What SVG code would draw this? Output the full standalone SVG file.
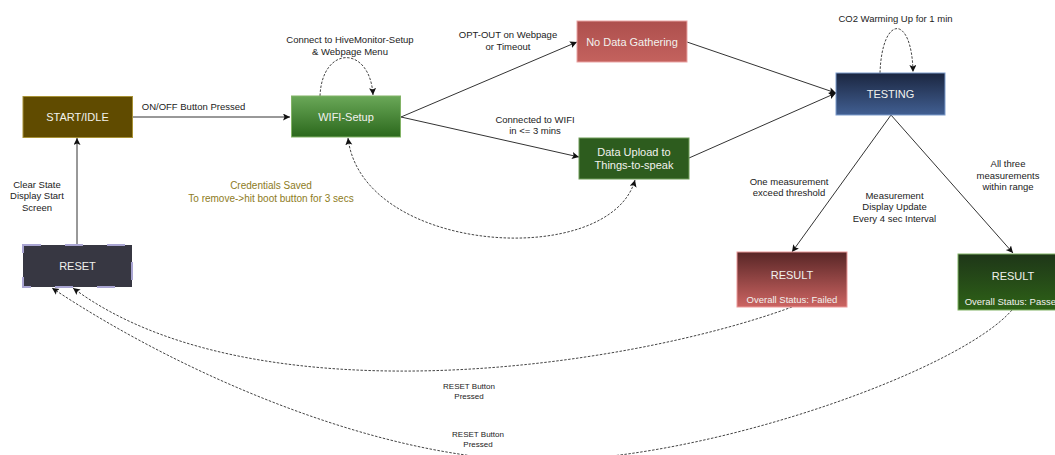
<svg xmlns="http://www.w3.org/2000/svg" width="1055" height="455" viewBox="0 0 1055 455">
<style>
.node text{font-family:"Liberation Sans",Arial,sans-serif;fill:#f2f2ee;text-anchor:middle;}
.nt{font-size:11px;}
.ns{font-size:9.5px;}
.lbl{font-family:"Liberation Sans",Arial,sans-serif;font-size:9.5px;fill:#222;text-anchor:middle;}
.sm{font-size:8px;}
.gold{fill:#8d7b1c;font-size:10px;}
.edge{fill:none;stroke:#333;stroke-width:1;}
.dash{fill:none;stroke:#444;stroke-width:1;stroke-dasharray:2.5 1.5;}
</style>
<defs>
<marker id="ah" markerWidth="8" markerHeight="8" refX="7" refY="3.5" orient="auto-start-reverse" markerUnits="userSpaceOnUse">
<path d="M0,0 L7,3.5 L0,7 L1.5,3.5 z" fill="#111"/>
</marker>
<linearGradient id="gWifi" x1="0" y1="0" x2="0" y2="1"><stop offset="0" stop-color="#6aa858"/><stop offset="1" stop-color="#2b681c"/></linearGradient>
<linearGradient id="gNoData" x1="0" y1="0" x2="0" y2="1"><stop offset="0" stop-color="#ad4f4d"/><stop offset="1" stop-color="#c4625e"/></linearGradient>
<linearGradient id="gTest" x1="0" y1="0" x2="0" y2="1"><stop offset="0" stop-color="#1b2640"/><stop offset="1" stop-color="#415f92"/></linearGradient>
<linearGradient id="gFail" x1="0" y1="0" x2="0" y2="1"><stop offset="0" stop-color="#582626"/><stop offset="1" stop-color="#cc6462"/></linearGradient>
<linearGradient id="gPass" x1="0" y1="0" x2="0" y2="1"><stop offset="0" stop-color="#1e3618"/><stop offset="1" stop-color="#2e6217"/></linearGradient>
</defs>
<rect width="1055" height="455" fill="#ffffff"/>

<g id="connectors">
<path class="edge" d="M132,117 L290,117" marker-end="url(#ah)"/>
<path class="edge" d="M77,245 L77,138" marker-end="url(#ah)"/>
<path class="dash" d="M320,96 C322,45 370,45 373,95" marker-end="url(#ah)"/>
<path class="edge" d="M401,117 L577,42" marker-end="url(#ah)"/>
<path class="edge" d="M401,117 L579,157" marker-end="url(#ah)"/>
<path class="dash" d="M348,138 C362,255 610,270 635,180" marker-start="url(#ah)" marker-end="url(#ah)"/>
<path class="edge" d="M687,42 L836,93" marker-end="url(#ah)"/>
<path class="edge" d="M689,158 L836,93" marker-end="url(#ah)"/>
<path class="dash" d="M880,73 C882,14 912,14 913,72" marker-end="url(#ah)"/>
<path class="edge" d="M891,115 L792,252" marker-end="url(#ah)"/>
<path class="edge" d="M891,115 L1013,253" marker-end="url(#ah)"/>
<path class="dash" d="M792,307 C620,370 250,420 73,288" marker-end="url(#ah)"/>
<path class="dash" d="M1012,310 C960,370 720,455 560,460 C400,468 190,380 52,288" marker-end="url(#ah)"/>

<text class="lbl" x="193.5" y="110">ON/OFF Button Pressed</text>
<text class="lbl" x="37" y="187.5">Clear State</text>
<text class="lbl" x="37" y="199">Display Start</text>
<text class="lbl" x="37" y="210.5">Screen</text>
<text class="lbl" x="350" y="42.5">Connect to HiveMonitor-Setup</text>
<text class="lbl" x="350" y="54.5">&amp; Webpage Menu</text>
<text class="lbl" x="508" y="38">OPT-OUT on Webpage</text>
<text class="lbl" x="508" y="49.5">or Timeout</text>
<text class="lbl" x="535" y="122.5">Connected to WIFI</text>
<text class="lbl" x="535" y="133.5">in &lt;= 3 mins</text>
<text class="lbl gold" x="271" y="188.5">Credentials Saved</text>
<text class="lbl gold" x="271" y="201.5">To remove-&gt;hit boot button for 3 secs</text>
<text class="lbl" x="895.5" y="22">CO2 Warming Up for 1 min</text>
<text class="lbl" x="789" y="184.5">One measurement</text>
<text class="lbl" x="789" y="195.5">exceed threshold</text>
<text class="lbl" x="894.5" y="198.5">Measurement</text>
<text class="lbl" x="894.5" y="210">Display Update</text>
<text class="lbl" x="894.5" y="222">Every 4 sec Interval</text>
<text class="lbl" x="1008" y="167">All three</text>
<text class="lbl" x="1008" y="178.5">measurements</text>
<text class="lbl" x="1008" y="190">within range</text>
<text class="lbl sm" x="469" y="388.5">RESET Button</text>
<text class="lbl sm" x="469" y="398.5">Pressed</text>
<text class="lbl sm" x="478" y="437">RESET Button</text>
<text class="lbl sm" x="478" y="446.5">Pressed</text>
</g>

<g id="start" class="node">
<rect x="23" y="96.5" width="109.5" height="41" fill="#604b00" stroke="#a89236" stroke-width="1"/>
<text class="nt" x="77.5" y="120.5">START/IDLE</text>
</g>
<g id="reset" class="node">
<rect x="23" y="245" width="109" height="42" fill="#373742" stroke="#a9a5d2" stroke-width="2" stroke-dasharray="18 24"/>
<text class="nt" x="77.5" y="270">RESET</text>
</g>
<g id="wifi" class="node">
<rect x="291.5" y="96" width="109" height="41" fill="url(#gWifi)" stroke="#82b366" stroke-width="1"/>
<text class="nt" x="346" y="120.5">WIFI-Setup</text>
</g>
<g id="nodata" class="node">
<rect x="577" y="21" width="110" height="41" fill="url(#gNoData)" stroke="#eaa3a3" stroke-width="1"/>
<text class="nt" x="632" y="46">No Data Gathering</text>
</g>
<g id="upload" class="node">
<rect x="579" y="138" width="110" height="41" fill="#2d5c1e" stroke="#6f9c58" stroke-width="1"/>
<text class="nt" x="634" y="156">Data Upload to</text>
<text class="nt" x="634" y="169">Things-to-speak</text>
</g>
<g id="testing" class="node">
<rect x="836" y="73" width="109" height="42" fill="url(#gTest)" stroke="#7d9ccc" stroke-width="1"/>
<text class="nt" x="890.5" y="98">TESTING</text>
</g>
<g id="result-failed" class="node">
<rect x="737" y="252" width="110" height="55" fill="url(#gFail)" stroke="#eb9a9a" stroke-width="1"/>
<text class="nt" x="792" y="279">RESULT</text>
<text class="ns" x="792" y="302.5">Overall Status: Failed</text>
</g>
<g id="result-passed" class="node">
<rect x="958" y="254" width="110" height="56" fill="url(#gPass)" stroke="#82b366" stroke-width="1"/>
<text class="nt" x="1013" y="279.5">RESULT</text>
<text class="ns" x="1013" y="305">Overall Status: Passed</text>
</g>
</svg>
